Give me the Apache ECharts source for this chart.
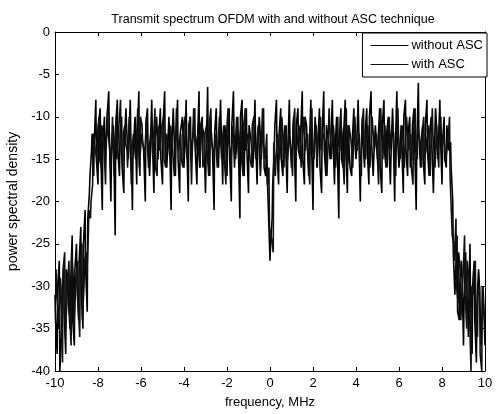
<!DOCTYPE html>
<html><head><meta charset="utf-8">
<script src="https://cdn.jsdelivr.net/npm/echarts@6/dist/echarts.min.js"></script>
<style>html,body{margin:0;padding:0;background:#fff}#c{width:496px;height:414px}</style>
</head><body><div id="c"></div>
<script>
const titleText = "Transmit spectrum OFDM with and without ASC technique";
const seriesNames = ["without ASC", "with ASC"];
const xTicks = [-10, -8, -6, -4, -2, 0, 2, 4, 6, 8, 10];
const yTicks = [0, -5, -10, -15, -20, -25, -30, -35, -40];
// frequency sample grids, MHz (step 0.1, four interleaved offsets)
const grid = (start, n) => Array.from({length: n}, (_, i) => +(start + i * 0.1).toFixed(3));
const freqA = grid(-10, 201);
const freqAmid = grid(-9.975, 200);
const freqB = grid(-9.95, 200);
const freqBmid = grid(-9.925, 200);
// "without ASC" PSD read at freqA and freqAmid
const withoutASC = [
  -31,-38,-27,-36,-28,-38,-29,-35,-24,-37,
  -25,-34,-23,-35,-21,-33,-19,-14,-17,-8,
  -18,-9,-21,-10,-16,-7,-20,-11,-24,-8,
  -17,-10,-19,-9,-15,-8,-21,-11,-18,-7,
  -16,-12,-20,-9,-17,-8,-19,-11,-15,-9,
  -18,-7,-16,-10,-21,-9,-17,-8,-19,-12,
  -16,-8,-20,-10,-15,-9,-18,-7,-16,-11,
  -19,-6.5,-17,-10,-21,-9,-16,-8,-18,-11,
  -17,-9,-20,-7,-15,-10,-22,-8,-17,-9,
  -19,-11,-16,-8,-18,-10,-15,-9,-17,-19,
  -27,-22,-14,-8,-18,-9,-17,-11,-19,-8,
  -16,-10,-20,-9,-15,-7,-18,-11,-17,-8,
  -21,-10,-16,-9,-19,-7,-17,-11,-15,-8,
  -18,-10,-22,-9,-16,-8,-19,-11,-17,-9,
  -15,-8,-20,-10,-16,-9,-18,-7,-17,-11,
  -15,-9,-19,-8,-16,-10,-18,-9,-20,-7,
  -16,-11,-19,-8,-17,-10,-15,-9,-21,-6,
  -16,-11,-18,-8,-17,-10,-19,-9,-15,-8,
  -18,-10,-16,-11,-13,-20,-31,-24,-34,-27,
  -37,-26,-33,-25,-38,-27,-39,-28,-35,-30,
  -37
];
const withoutASCmid = [
  -34,-30,-40,-31,-33,-28,-32,-30,-34,-28,
  -30,-27,-31,-25,-28,-22,-17,-12,-13,-15,
  -11,-14,-13,-16,-10,-12,-15,-13,-11,-14,
  -12,-16,-13,-11,-14,-12,-15,-10,-13,-16,
  -12,-14,-11,-13,-15,-12,-14,-10,-13,-15,
  -11,-13,-16,-12,-14,-11,-13,-15,-12,-10,
  -14,-13,-11,-15,-12,-14,-13,-16,-11,-12,
  -15,-13,-10,-14,-12,-13,-16,-11,-14,-12,
  -13,-15,-11,-12,-14,-13,-10,-15,-12,-14,
  -11,-13,-15,-12,-14,-11,-13,-16,-14,-21,
  -25,-18,-11,-14,-12,-15,-13,-11,-14,-12,
  -16,-13,-11,-14,-12,-15,-10,-13,-14,-12,
  -15,-11,-13,-16,-12,-14,-11,-13,-15,-12,
  -14,-10,-13,-15,-12,-14,-11,-16,-13,-12,
  -14,-11,-15,-13,-12,-14,-10,-13,-15,-12,
  -13,-16,-11,-14,-12,-13,-15,-11,-14,-12,
  -15,-13,-10,-14,-12,-16,-11,-13,-14,-12,
  -13,-15,-11,-14,-12,-13,-16,-10,-14,-12,
  -13,-15,-11,-14,-16,-26,-29,-33,-30,-28,
  -32,-29,-36,-31,-30,-34,-32,-29,-37,-31
];
// "with ASC" PSD read at freqB and freqBmid
const withASC = [
  -28,-33,-29,-39,-26,-32,-27,-37,-29,-31,
  -27,-36,-25,-30,-26,-24,-22,-18,-12,-15,
  -10,-16,-11,-18,-9,-14,-12,-17,-10,-15,
  -8,-16,-11,-14,-10,-18,-12,-15,-9,-17,
  -11,-14,-10,-16,-12,-15,-9,-17,-11,-14,
  -10,-16,-12,-15,-11,-17,-9,-14,-12,-16,
  -10,-15,-11,-18,-9,-14,-12,-16,-10,-15,
  -11,-17,-9,-14,-12,-16,-10,-15,-11,-18,
  -9,-14,-12,-16,-10,-15,-11,-17,-9,-14,
  -12,-16,-10,-15,-11,-17,-9,-14,-12,-16,
  -24,-26,-17,-12,-15,-10,-16,-11,-14,-12,
  -17,-9,-15,-11,-16,-10,-14,-12,-18,-9,
  -15,-11,-16,-10,-14,-12,-17,-9,-15,-11,
  -16,-10,-14,-12,-18,-9,-15,-11,-16,-10,
  -14,-12,-17,-9,-15,-11,-16,-10,-14,-12,
  -18,-9,-15,-11,-16,-10,-14,-12,-17,-9,
  -15,-11,-16,-10,-14,-12,-18,-9,-15,-11,
  -16,-10,-14,-12,-17,-9,-15,-11,-16,-10,
  -14,-12,-15,-10,-17,-25,-22,-32,-28,-30,
  -24,-35,-29,-40,-31,-27,-36,-30,-40,-33
];
const withASCmid = [
  -31,-35,-30,-28,-36,-30,-33,-26,-35,-29,
  -32,-28,-34,-27,-29,-21,-20,-12,-14,-12,
  -15,-11,-13,-14,-12,-16,-10,-13,-15,-11,
  -14,-12,-13,-16,-11,-14,-12,-15,-13,-10,
  -13,-15,-12,-14,-11,-13,-16,-12,-14,-11,
  -15,-12,-13,-11,-14,-16,-12,-13,-15,-11,
  -13,-14,-10,-15,-12,-13,-14,-11,-16,-12,
  -14,-11,-13,-15,-12,-14,-10,-13,-15,-12,
  -13,-16,-11,-14,-12,-13,-15,-11,-14,-12,
  -15,-11,-13,-14,-12,-16,-13,-15,-18,-23,
  -24,-13,-15,-12,-14,-11,-13,-16,-12,-14,
  -11,-15,-13,-12,-14,-10,-13,-15,-12,-14,
  -13,-16,-11,-14,-12,-13,-15,-11,-14,-12,
  -15,-13,-10,-14,-12,-16,-11,-13,-14,-12,
  -13,-15,-11,-14,-12,-13,-16,-10,-14,-12,
  -14,-11,-13,-15,-12,-14,-11,-16,-13,-12,
  -15,-12,-14,-11,-13,-16,-12,-14,-11,-13,
  -12,-15,-13,-11,-14,-12,-16,-13,-11,-14,
  -12,-15,-13,-17,-24,-27,-30,-26,-34,-29,
  -31,-27,-33,-30,-28,-35,-31,-38,-30,-34
];
function merge(x1, y1, x2, y2) {
  const out = [];
  x1.forEach((f, i) => out.push([f, y1[i]]));
  x2.forEach((f, i) => out.push([f, y2[i]]));
  return out.sort((a, b) => a[0] - b[0]);
}
const font = "Liberation Sans, Arial, sans-serif";
const chart = echarts.init(document.getElementById('c'), null, {renderer: 'canvas'});
const tickAxisCommon = () => ({
  axisLine: {show: true, onZero: false, lineStyle: {color: '#000', width: 1}},
  axisTick: {show: true, inside: true, length: 4, lineStyle: {color: '#000'}},
  splitLine: {show: false}
});
chart.setOption({
  animation: false,
  backgroundColor: '#fff',
  title: {text: titleText, left: 268, textAlign: 'center', top: 8,
    textStyle: {fontFamily: font, fontSize: 12.5, fontWeight: 'normal', color: '#000'}},
  legend: {
    data: seriesNames, orient: 'vertical', right: 9, top: 33,
    backgroundColor: '#fff', borderColor: '#000', borderWidth: 1,
    padding: [6, 4, 6, 8], itemGap: 6, itemWidth: 38, itemHeight: 1,
    icon: 'rect',
    textStyle: {fontFamily: font, fontSize: 13, color: '#000', padding: [0, 0, 0, -2]}
  },
  grid: {left: 55, right: 11, top: 32, bottom: 43, outerBoundsMode: 'none', containLabel: false},
  xAxis: [
    Object.assign({type: 'value', min: -10, max: 10, interval: 2, position: 'bottom',
      name: 'frequency, MHz', nameLocation: 'middle', nameGap: 25,
      nameTextStyle: {fontFamily: font, fontSize: 13, color: '#000'},
      axisLabel: {fontFamily: font, fontSize: 13, color: '#000', margin: 6,
        formatter: v => xTicks.includes(v) ? String(v) : ''}}, tickAxisCommon()),
    Object.assign({type: 'value', min: -10, max: 10, interval: 2, position: 'top',
      axisLabel: {show: false}}, tickAxisCommon())
  ],
  yAxis: [
    Object.assign({type: 'value', min: -40, max: 0, interval: 5, position: 'left',
      name: 'power spectral density', nameLocation: 'middle', nameGap: 28,
      nameTextStyle: {fontFamily: font, fontSize: 14, color: '#000'},
      axisLabel: {fontFamily: font, fontSize: 13, color: '#000', margin: 5,
        formatter: v => yTicks.includes(v) ? String(v) : ''}}, tickAxisCommon()),
    Object.assign({type: 'value', min: -40, max: 0, interval: 5, position: 'right',
      axisLabel: {show: false}}, tickAxisCommon())
  ],
  series: [
    {name: seriesNames[0], type: 'line', symbol: 'none',
      data: merge(freqA, withoutASC, freqAmid, withoutASCmid),
      lineStyle: {color: '#000', width: 1.6}, itemStyle: {color: '#000'}},
    {name: seriesNames[1], type: 'line', symbol: 'none',
      data: merge(freqB, withASC, freqBmid, withASCmid),
      lineStyle: {color: '#111', width: 1.6}, itemStyle: {color: '#111'}}
  ]
});
</script></body></html>
